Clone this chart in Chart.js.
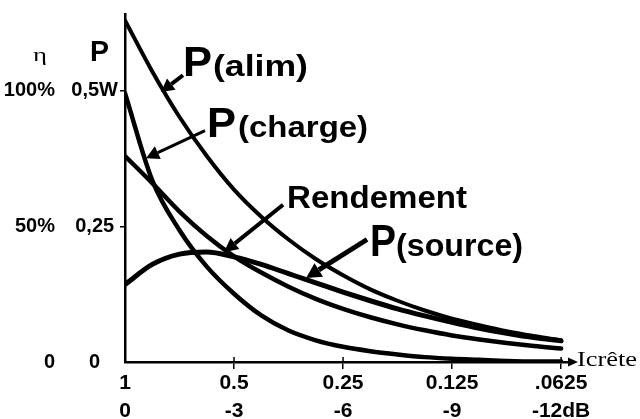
<!DOCTYPE html>
<html><head><meta charset="utf-8">
<script src="https://cdn.jsdelivr.net/npm/chart.js@4/dist/chart.umd.min.js"></script>
<style>html,body{margin:0;padding:0;background:#fff}canvas{display:block}</style>
</head><body>
<canvas id="c" width="640" height="419"></canvas>
<script>
// x position = number of halvings of the peak current (0 = 1, 4 = .0625)
const xPositions = [0, 0.25, 0.5, 0.75, 1, 1.25, 1.5, 1.75, 2, 2.25, 2.5, 2.75, 3, 3.25, 3.5, 3.75, 4];
const xTickValues = [0, 1, 2, 3, 4];
const xTickCurrent = ['1', '0.5', '0.25', '0.125', '.0625'];
const xTickDb = ['0', '-3', '-6', '-9', '-12dB'];
const yTickValues = [0, 0.25, 0.5];
const yTickPower = ['0', '0,25', '0,5W'];
const yTickPctValues = [0, 50, 100];
const yTickPct = ['0', '50%', '100%'];
// powers in W, efficiency in %
const pAlim = [0.630, 0.536, 0.452, 0.380, 0.318, 0.268, 0.226, 0.190, 0.160, 0.134, 0.113, 0.095, 0.080, 0.068, 0.057, 0.048, 0.040];
const pCharge = [0.496, 0.335, 0.243, 0.176, 0.126, 0.086, 0.058, 0.040, 0.028, 0.020, 0.014, 0.009, 0.006, 0.004, 0.002, 0.001, 0.001];
const rendement = [76, 66, 55.5, 46.5, 39, 33, 27.8, 23.3, 19.6, 16.5, 13.9, 11.7, 9.8, 8.3, 7.0, 5.9, 5.0];
const pSource = [0.143, 0.180, 0.199, 0.203, 0.194, 0.180, 0.163, 0.146, 0.129, 0.113, 0.098, 0.085, 0.073, 0.062, 0.053, 0.045, 0.039];

const SANS = '"Liberation Sans", Arial, sans-serif';
const SERIF = '"Liberation Serif", "Times New Roman", serif';

function pts(arr) { return xPositions.map((x, i) => ({ x: x, y: arr[i] })); }

function drawText(ctx, str, font, x, y, w) {
  ctx.save();
  ctx.font = font; ctx.textAlign = 'left'; ctx.textBaseline = 'alphabetic';
  const m = ctx.measureText(str).width;
  ctx.translate(x, y); ctx.scale(w / m, 1);
  ctx.fillText(str, 0, 0);
  ctx.restore();
}
function arrow(ctx, x1, y1, x2, y2, lw, hl, hw) {
  const a = Math.atan2(y2 - y1, x2 - x1);
  const bx = x2 - hl * Math.cos(a), by = y2 - hl * Math.sin(a);
  ctx.lineWidth = lw;
  ctx.beginPath(); ctx.moveTo(x1, y1); ctx.lineTo(bx, by); ctx.stroke();
  ctx.beginPath(); ctx.moveTo(x2, y2);
  ctx.lineTo(bx + hw * Math.sin(a), by - hw * Math.cos(a));
  ctx.lineTo(bx - hw * Math.sin(a), by + hw * Math.cos(a));
  ctx.closePath(); ctx.fill();
}

const annotPlugin = {
  id: 'annot',
  afterDraw(chart) {
    const ctx = chart.ctx, xs = chart.scales.x, ys = chart.scales.y, ca = chart.chartArea;
    const X = v => xs.getPixelForValue(v), Y = v => ys.getPixelForValue(v);
    ctx.save();
    ctx.fillStyle = '#000'; ctx.strokeStyle = '#000'; ctx.lineCap = 'butt';
    // small upward parts of x ticks
    ctx.lineWidth = 1.5;
    xTickValues.slice(1).forEach(v => { ctx.beginPath(); ctx.moveTo(X(v), ca.bottom - 5); ctx.lineTo(X(v), ca.bottom); ctx.stroke(); });
    // axis arrow
    ctx.beginPath(); ctx.moveTo(ca.right + 6, ca.bottom); ctx.lineTo(ca.right - 4, ca.bottom - 4.5); ctx.lineTo(ca.right - 4, ca.bottom + 4.5); ctx.closePath(); ctx.fill();
    drawText(ctx, 'Icrête', '21px ' + SERIF, ca.right + 5, ca.bottom + 4, 60);
    // axis headers
    drawText(ctx, 'P', 'bold 30px ' + SANS, ca.left - 35, Y(0.555), 19);
    drawText(ctx, 'η', '18px ' + SERIF, ca.left - 92, Y(0.555), 14);
    // curve labels + arrows
    arrow(ctx, X(0.532), Y(0.529), X(0.330), Y(0.498), 4, 13, 7);
    drawText(ctx, 'P', 'bold 42px ' + SANS, X(0.532), Y(0.527), 29);
    drawText(ctx, '(alim)', 'bold 30px ' + SANS, X(0.807), Y(0.527), 95);

    arrow(ctx, X(0.734), Y(0.427), X(0.193), Y(0.376), 3, 13, 7);
    drawText(ctx, 'P', 'bold 42px ' + SANS, X(0.752), Y(0.416), 29);
    drawText(ctx, '(charge)', 'bold 30px ' + SANS, X(1.037), Y(0.416), 130);

    arrow(ctx, X(1.450), Y(0.290), X(0.908), Y(0.2026), 4, 14, 7);
    drawText(ctx, 'Rendement', 'bold 32px ' + SANS, X(1.486), Y(0.285), 180);

    arrow(ctx, X(2.220), Y(0.226), X(1.661), Y(0.155), 5, 15, 8);
    drawText(ctx, 'P', 'bold 44px ' + SANS, X(2.248), Y(0.195), 26);
    drawText(ctx, '(source)', 'bold 32px ' + SANS, X(2.486), Y(0.195), 127);
    ctx.restore();
  }
};

const lineStyle = { borderColor: '#000', borderWidth: 4.5, pointRadius: 0, cubicInterpolationMode: 'monotone', fill: false, borderCapStyle: 'round', borderJoinStyle: 'round' };

new Chart(document.getElementById('c'), {
  type: 'line',
  data: {
    datasets: [
      Object.assign({ label: 'P(alim)', data: pts(pAlim), yAxisID: 'y' }, lineStyle, { borderWidth: 4 }),
      Object.assign({ label: 'P(charge)', data: pts(pCharge), yAxisID: 'y' }, lineStyle),
      Object.assign({ label: 'Rendement', data: pts(rendement), yAxisID: 'yPct' }, lineStyle),
      Object.assign({ label: 'P(source)', data: pts(pSource), yAxisID: 'y' }, lineStyle, { borderWidth: 5 })
    ]
  },
  options: {
    responsive: false, animation: false, devicePixelRatio: 1,
    layout: { padding: { top: 10, right: 68, bottom: 0, left: 0 } },
    plugins: { legend: { display: false }, tooltip: { enabled: false }, title: { display: false } },
    scales: {
      x: {
        type: 'linear', min: 0, max: 4.1,
        afterBuildTicks: s => { s.ticks = xTickValues.map(v => ({ value: v })); },
        afterFit: s => { s.height = 57; },
        ticks: {
          callback: v => { const i = xTickValues.indexOf(v); return i < 0 ? '' : [xTickCurrent[i], xTickDb[i]]; },
          font: { family: SANS, size: 21, weight: 'bold', lineHeight: 1.33 },
          color: '#000', padding: 0, maxRotation: 0, minRotation: 0, autoSkip: false
        },
        grid: { drawOnChartArea: false, tickLength: 7, lineWidth: 1.5, color: c => c.index === 0 ? 'rgba(0,0,0,0)' : '#000' },
        border: { color: '#000', width: 2.5 }
      },
      y: {
        type: 'linear', position: 'left', min: 0, max: 0.642, weight: 0,
        afterBuildTicks: s => { s.ticks = yTickValues.map(v => ({ value: v })); },
        afterFit: s => { s.width = 60; },
        ticks: {
          callback: v => { const i = yTickValues.indexOf(v); return i < 0 ? '' : yTickPower[i]; },
          font: { family: SANS, size: 20, weight: 'bold' }, color: '#000', padding: 2, crossAlign: 'center'
        },
        grid: { drawOnChartArea: false, tickLength: 5, lineWidth: 1.5, color: c => (c.tick && c.tick.value === 0) ? 'rgba(0,0,0,0)' : '#000' },
        border: { color: '#000', width: 2.5 }
      },
      yPct: {
        type: 'linear', position: 'left', min: 0, max: 128.4, weight: 10,
        afterBuildTicks: s => { s.ticks = yTickPctValues.map(v => ({ value: v })); },
        afterFit: s => { s.width = 65; },
        ticks: {
          callback: v => { const i = yTickPctValues.indexOf(v); return i < 0 ? '' : yTickPct[i]; },
          font: { family: SANS, size: 20, weight: 'bold' }, color: '#000', padding: 2
        },
        grid: { display: false },
        border: { display: false }
      }
    }
  },
  plugins: [annotPlugin]
});
</script>
</body></html>
